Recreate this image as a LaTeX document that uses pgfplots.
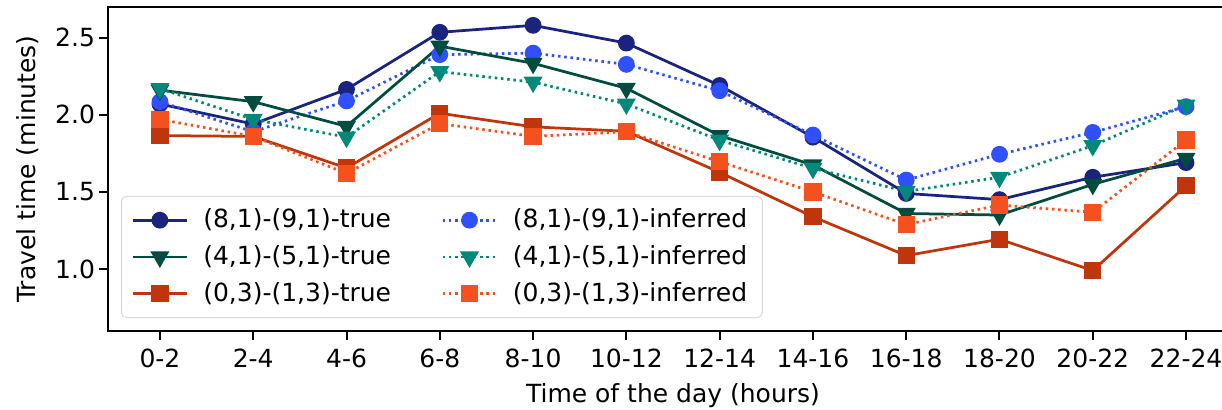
\documentclass[border=0pt]{standalone}
\usepackage{pgfplots}
\pgfplotsset{compat=1.18}
\usepackage{fontspec}
\setmainfont{DejaVu Sans}

\definecolor{navytrue}{HTML}{1A237E}
\definecolor{greentrue}{HTML}{004D40}
\definecolor{orangetrue}{HTML}{BF360C}
\definecolor{blueinf}{HTML}{304FFE}
\definecolor{tealinf}{HTML}{00897B}
\definecolor{orangeinf}{HTML}{F4511E}

\begin{document}
\begin{tikzpicture}
% page frame: 1222x409 px at 0.4pt per px, axis box 1130x324 px
\useasboundingbox (-43.2pt,-31.2pt) rectangle (445.6pt,132.4pt);
\begin{axis}[
    scale only axis,
    width=452pt,
    height=129.6pt,
    xmin=-0.557, xmax=11.557,
    ymin=0.598, ymax=2.699,
    xtick={0,...,11},
    xticklabels={0-2,2-4,4-6,6-8,8-10,10-12,12-14,14-16,16-18,18-20,20-22,22-24},
    ytick={1.0,1.5,2.0,2.5},
    yticklabel style={/pgf/number format/fixed, /pgf/number format/fixed zerofill,
        /pgf/number format/precision=1, inner xsep=1.5pt},
    /pgf/number format/assume math mode=true,
    tick align=outside,
    xtick pos=bottom, ytick pos=left,
    major tick length=3.5pt,
    tick style={black, line width=0.8pt},
    axis line style={line width=0.8pt},
    tick label style={font=\fontsize{10}{12}\selectfont},
    label style={font=\fontsize{10}{12}\selectfont},
    xlabel={Time of the day (hours)},
    ylabel={Travel time (minutes)},
    ylabel style={at={(axis description cs:-0.0708,0.5)}, anchor=center},
    xlabel style={at={(axis description cs:0.5,-0.2)}, anchor=center},
    every axis plot/.append style={line width=1.1pt},
    legend columns=2,
    legend cell align=left,
    legend image code/.code={
        \draw[mark repeat=2,mark phase=2,#1] plot coordinates {(0pt,0pt) (10.8pt,0pt) (21.6pt,0pt)};
    },
    legend style={
        at={(0.0115,0.04)}, anchor=south west,
        draw=black!15, rounded corners=2pt, fill=white,
        font=\fontsize{10}{12}\selectfont,
        inner xsep=4pt, inner ysep=3pt,
        nodes={inner sep=2pt, text depth=0.15em},
        /tikz/every odd column/.append style={column sep=4pt},
        /tikz/every even column/.append style={column sep=18pt},
        /tikz/row sep=1.6pt,
    },
]
\addplot[color=navytrue, mark=*, mark size=2.8pt] coordinates {
(0,2.07) (1,1.94) (2,2.165) (3,2.535) (4,2.58) (5,2.465) (6,2.19) (7,1.855) (8,1.49) (9,1.45) (10,1.595) (11,1.69)};
\addlegendentry{(8,1)-(9,1)-true}
\addplot[color=blueinf, mark=*, mark size=2.8pt, mark options={solid}, dash pattern=on 1pt off 1.5pt] coordinates {
(0,2.085) (1,1.89) (2,2.09) (3,2.39) (4,2.40) (5,2.327) (6,2.156) (7,1.869) (8,1.577) (9,1.744) (10,1.886) (11,2.053)};
\addlegendentry{(8,1)-(9,1)-inferred}
\addplot[color=greentrue, mark=triangle*, mark size=3.3pt, mark options={rotate=180}] coordinates {
(0,2.16) (1,2.085) (2,1.925) (3,2.445) (4,2.334) (5,2.172) (6,1.865) (7,1.675) (8,1.36) (9,1.35) (10,1.549) (11,1.718)};
\addlegendentry{(4,1)-(5,1)-true}
\addplot[color=tealinf, mark=triangle*, mark size=3.3pt, mark options={rotate=180,solid}, dash pattern=on 1pt off 1.5pt] coordinates {
(0,2.17) (1,1.97) (2,1.855) (3,2.28) (4,2.212) (5,2.07) (6,1.835) (7,1.653) (8,1.503) (9,1.595) (10,1.800) (11,2.063)};
\addlegendentry{(4,1)-(5,1)-inferred}
\addplot[color=orangetrue, mark=square*, mark size=2.9pt] coordinates {
(0,1.865) (1,1.86) (2,1.655) (3,2.01) (4,1.922) (5,1.893) (6,1.627) (7,1.339) (8,1.087) (9,1.193) (10,0.99) (11,1.54)};
\addlegendentry{(0,3)-(1,3)-true}
\addplot[color=orangeinf, mark=square*, mark size=2.9pt, mark options={solid}, dash pattern=on 1pt off 1.5pt] coordinates {
(0,1.97) (1,1.86) (2,1.62) (3,1.943) (4,1.86) (5,1.89) (6,1.696) (7,1.50) (8,1.288) (9,1.415) (10,1.368) (11,1.837)};
\addlegendentry{(0,3)-(1,3)-inferred}
\end{axis}
\end{tikzpicture}
\end{document}
